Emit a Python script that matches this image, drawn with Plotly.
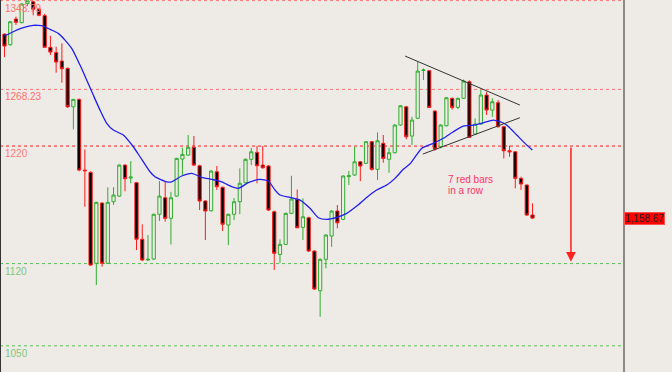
import plotly.graph_objects as go

opens = [1315.3, 1306.2, 1328.1, 1325.0, 1341.2, 1342.8, 1336.4, 1331.0, 1304.0, 1299.7,
         1292.3, 1286.1, 1253.4, 1259.7, 1199.6, 1197.6, 1120.2, 1171.5, 1120.2, 1172.6,
         1177.4, 1203.8, 1192.8, 1188.8, 1140.6, 1123.0, 1123.8, 1161.9, 1176.0, 1158.5,
         1177.4, 1208.9, 1212.3, 1218.9, 1203.2, 1173.2, 1164.9, 1198.1, 1184.9, 1152.8,
         1161.9, 1172.6, 1188.8, 1208.7, 1214.6, 1203.8, 1203.0, 1164.1, 1127.8, 1136.3,
         1162.7, 1174.6, 1150.8, 1159.0, 1130.6, 1096.9, 1123.6, 1143.4, 1164.7, 1157.6,
         1194.0, 1195.3, 1206.6, 1205.3, 1223.7, 1200.2, 1222.3, 1208.7, 1214.3, 1237.9,
         1253.4, 1228.5, 1243.6, 1284.3, 1284.1, 1249.8, 1219.4, 1237.3, 1260.6, 1252.9,
         1260.6, 1274.7, 1230.2, 1238.7, 1263.4, 1250.6, 1256.9, 1236.4, 1216.0, 1215.1,
         1192.5, 1186.8, 1161.3]
highs = [1315.5, 1326.5, 1330.2, 1341.5, 1343.6, 1343.79, 1337.5, 1332.5, 1313.9, 1304.5,
         1307.4, 1287.0, 1260.0, 1260.5, 1217.2, 1198.5, 1172.5, 1172.0, 1184.9, 1185.0,
         1204.5, 1204.5, 1207.2, 1189.5, 1153.4, 1144.3, 1162.5, 1190.2, 1189.6, 1181.0,
         1210.0, 1218.6, 1229.4, 1228.5, 1204.0, 1174.0, 1199.5, 1203.0, 1185.5, 1162.5,
         1175.7, 1201.0, 1209.5, 1218.6, 1220.0, 1220.0, 1204.0, 1165.0, 1140.6, 1163.3,
         1194.7, 1183.0, 1175.5, 1159.8, 1131.3, 1124.2, 1144.9, 1165.3, 1169.8, 1195.0,
         1198.7, 1219.4, 1207.2, 1224.3, 1224.3, 1231.7, 1229.4, 1218.6, 1238.5, 1254.9,
         1254.0, 1244.9, 1291.7, 1286.1, 1284.7, 1250.6, 1238.5, 1261.7, 1261.2, 1261.2,
         1276.6, 1276.0, 1243.6, 1267.7, 1266.2, 1260.6, 1259.1, 1237.0, 1220.3, 1215.7,
         1193.9, 1187.4, 1171.2]
lows = [1295.7, 1305.5, 1323.0, 1324.5, 1339.0, 1331.3, 1330.5, 1303.5, 1297.4, 1282.4,
        1273.9, 1252.5, 1234.2, 1198.5, 1168.3, 1118.0, 1101.7, 1117.3, 1119.8, 1170.0,
        1176.8, 1181.5, 1188.3, 1131.5, 1122.1, 1122.1, 1123.2, 1156.2, 1155.6, 1136.3,
        1176.8, 1195.3, 1211.8, 1202.9, 1165.5, 1140.0, 1164.3, 1182.6, 1147.7, 1135.7,
        1157.0, 1162.0, 1188.2, 1203.8, 1188.3, 1200.8, 1164.8, 1114.5, 1120.7, 1135.7,
        1162.1, 1150.0, 1140.0, 1130.0, 1097.5, 1074.7, 1116.0, 1134.3, 1150.0, 1157.0,
        1186.8, 1194.7, 1190.2, 1204.7, 1199.0, 1191.1, 1205.8, 1197.3, 1213.7, 1237.3,
        1225.7, 1220.9, 1243.0, 1276.2, 1252.3, 1216.0, 1218.0, 1236.7, 1251.0, 1251.5,
        1260.0, 1226.8, 1229.6, 1238.1, 1246.4, 1244.9, 1235.8, 1209.5, 1210.9, 1184.0,
        1182.6, 1160.7, 1158.0]
closes = [1305.1, 1325.8, 1325.3, 1340.9, 1343.6, 1336.4, 1331.3, 1304.0, 1300.0, 1291.5,
          1285.8, 1253.4, 1259.7, 1199.6, 1199.0, 1118.7, 1172.1, 1120.2, 1172.1, 1178.3,
          1203.8, 1192.2, 1193.6, 1140.6, 1123.0, 1123.6, 1161.9, 1177.4, 1158.5, 1176.0,
          1209.5, 1212.9, 1218.9, 1203.8, 1173.2, 1164.7, 1198.7, 1185.4, 1153.4, 1161.9,
          1172.6, 1188.3, 1208.7, 1215.1, 1203.2, 1201.5, 1165.5, 1128.7, 1136.3, 1162.7,
          1174.9, 1150.5, 1159.8, 1130.6, 1098.3, 1123.6, 1144.3, 1164.7, 1154.7, 1194.5,
          1194.7, 1206.6, 1203.0, 1223.7, 1200.2, 1224.5, 1209.5, 1214.3, 1237.9, 1254.3,
          1227.9, 1242.1, 1283.8, 1284.7, 1252.9, 1217.4, 1237.9, 1261.1, 1252.9, 1260.6,
          1275.3, 1227.4, 1238.7, 1263.4, 1250.6, 1257.7, 1236.4, 1216.0, 1215.1, 1192.5,
          1187.7, 1161.3, 1158.67]
bar_index = list(range(len(closes)))

# moving average line (bar position, value)
ma_pos = [0.0, 1.53, 3.28, 5.02, 5.89, 6.76, 7.93, 9.37, 10.54, 11.71, 13.16, 14.32, 15.47,
          16.64, 17.81, 18.96, 20.70, 22.44, 23.61, 25.35, 26.22, 28.26, 29.13, 30.88, 32.62,
          34.36, 36.10, 37.85, 39.59, 40.74, 42.48, 44.52, 45.97, 47.13, 48.0, 49.75, 51.49,
          53.23, 54.68, 56.14, 57.89, 59.63, 61.37, 63.11, 64.85, 66.60, 68.04, 69.49, 70.66,
          72.69, 74.72, 76.46, 78.20, 79.94, 81.69, 83.43, 85.17, 86.34, 87.50, 89.25, 90.70,
          91.97]
ma_val = [1313.6, 1317.3, 1320.7, 1322.7, 1322.7, 1322.1, 1319.3, 1315.9, 1310.2, 1303.1,
          1288.9, 1276.2, 1263.4, 1250.6, 1239.3, 1233.6, 1229.4, 1219.4, 1210.9, 1198.1,
          1193.9, 1189.6, 1189.6, 1194.5, 1196.8, 1193.4, 1191.7, 1189.6, 1185.4, 1184.0,
          1188.8, 1191.7, 1190.2, 1182.6, 1178.3, 1176.3, 1174.0, 1167.0, 1159.0, 1157.6,
          1159.3, 1162.7, 1168.9, 1176.3, 1182.6, 1186.8, 1192.5, 1200.2, 1204.9, 1218.0,
          1222.3, 1226.6, 1232.2, 1237.0, 1237.9, 1239.8, 1242.1, 1240.7, 1237.9, 1229.4,
          1222.3, 1216.6]

level_values = [1343.79, 1268.23, 1220, 1120, 1050]
level_labels = ["1343.79", "1268.23", "1220", "1120", "1050"]
level_line_colors = ["#ff7a7a", "#ff7070", "#ff1a1a", "#55c455", "#55c455"]
level_text_colors = ["#ff7070", "#ff7070", "#ff7a7a", "#80c880", "#80c880"]

# triangle trend lines (bar position, value)
upper_tl_x = [69.8, 89.8]
upper_tl_y = [1296.6, 1254.9]
lower_tl_x = [72.9, 89.8]
lower_tl_y = [1213.2, 1244.1]

arrow_x = 98.7
arrow_from = 1220
arrow_to = 1121.5

last_price_label = "1,158.67"
last_price = 1158.67

BG = "#eeeae6"

fig = go.Figure()

fig.add_trace(go.Candlestick(
    x=bar_index, open=opens, high=highs, low=lows, close=closes,
    increasing=dict(line=dict(color="#2fae2f", width=1), fillcolor=BG),
    decreasing=dict(line=dict(color="#ff1a1a", width=1), fillcolor="#000000"),
    whiskerwidth=0, showlegend=False, hoverinfo="skip",
))

fig.add_trace(go.Scatter(
    x=ma_pos, y=ma_val, mode="lines",
    line=dict(color="#2020ee", width=1.3, shape="spline", smoothing=0.6),
    showlegend=False, hoverinfo="skip",
))

shapes = []
annotations = []
for v, lab, lc, tc in zip(level_values, level_labels, level_line_colors, level_text_colors):
    shapes.append(dict(type="line", xref="paper", x0=0, x1=1, yref="y", y0=v, y1=v,
                       line=dict(color=lc, width=1, dash="3px,3px"), layer="below"))
    annotations.append(dict(xref="paper", x=0, xanchor="left", xshift=3,
                            yref="y", y=v, yanchor="top", yshift=0,
                            text=lab, showarrow=False,
                            font=dict(family="Liberation Sans, Arial", size=10, color=tc)))

for xs, ys in [(upper_tl_x, upper_tl_y), (lower_tl_x, lower_tl_y)]:
    shapes.append(dict(type="line", xref="x", yref="y", x0=xs[0], x1=xs[1], y0=ys[0], y1=ys[1],
                       line=dict(color="#333333", width=1)))

# left border
shapes.append(dict(type="line", xref="paper", yref="paper", x0=0, x1=0, y0=0, y1=1,
                   line=dict(color="#333333", width=2)))

annotations.append(dict(x=arrow_x, y=arrow_to, ax=arrow_x, ay=arrow_from,
                        xref="x", yref="y", axref="x", ayref="y",
                        showarrow=True, arrowhead=2, arrowsize=1.3, arrowwidth=1.5,
                        arrowcolor="#ff2020", text=""))

annotations.append(dict(x=76.9, y=1191.5, xref="x", yref="y", xanchor="left", yanchor="middle",
                        text="7 red bars", showarrow=False,
                        font=dict(family="Liberation Sans, Arial", size=10, color="#ff3366")))
annotations.append(dict(x=76.9, y=1182.0, xref="x", yref="y", xanchor="left", yanchor="middle",
                        text="in a row", showarrow=False,
                        font=dict(family="Liberation Sans, Arial", size=10, color="#ff3366")))

annotations.append(dict(xref="paper", x=1, xanchor="left", xshift=1, yref="y", y=last_price,
                        yanchor="middle", text=last_price_label, showarrow=False,
                        bgcolor="#ff0000", bordercolor="#ff5050", borderwidth=1, borderpad=0,
                        font=dict(family="Liberation Sans, Arial", size=10, color="#222222")))

fig.update_layout(
    width=672, height=372,
    margin=dict(l=0, r=49, t=0, b=0),
    paper_bgcolor=BG, plot_bgcolor=BG,
    shapes=shapes, annotations=annotations,
    boxgap=0.2,
    xaxis=dict(range=[-0.784, 107.77], showgrid=False, zeroline=False, showticklabels=False,
               rangeslider=dict(visible=False), fixedrange=True),
    yaxis=dict(range=[1027.7, 1344.3], showgrid=False, zeroline=False, showticklabels=False,
               side="right", showline=True, linecolor="#8a8a8a", linewidth=2, ticks=""),
)

fig.write_html("out.html")
